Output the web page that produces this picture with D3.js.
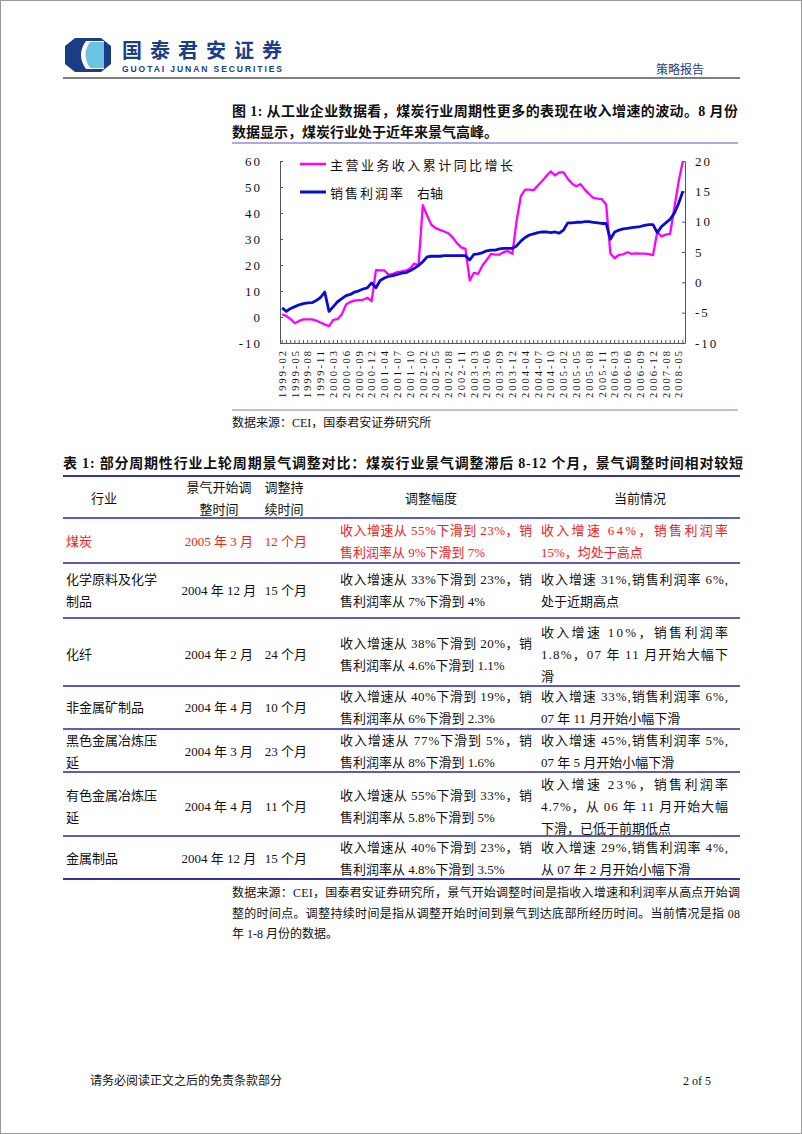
<!DOCTYPE html>
<html><head><meta charset="utf-8">
<script src="https://cdn.jsdelivr.net/npm/d3@7"></script>
<style>body{margin:0;background:#fff}svg{display:block}</style>
</head><body><svg id="page" width="802" height="1134"></svg>
<script>
// ---------------- DATA ----------------
const categories = [
"1999-02","1999-03","1999-04","1999-05","1999-06","1999-07","1999-08","1999-09","1999-10","1999-11","1999-12",
"2000-02","2000-03","2000-04","2000-05","2000-06","2000-07","2000-08","2000-09","2000-10","2000-11","2000-12",
"2001-02","2001-03","2001-04","2001-05","2001-06","2001-07","2001-08","2001-09","2001-10","2001-11","2001-12",
"2002-02","2002-03","2002-04","2002-05","2002-06","2002-07","2002-08","2002-09","2002-10","2002-11","2002-12",
"2003-02","2003-03","2003-04","2003-05","2003-06","2003-07","2003-08","2003-09","2003-10","2003-11","2003-12",
"2004-02","2004-03","2004-04","2004-05","2004-06","2004-07","2004-08","2004-09","2004-10","2004-11","2004-12",
"2005-02","2005-03","2005-04","2005-05","2005-06","2005-07","2005-08","2005-09","2005-10","2005-11","2005-12",
"2006-02","2006-03","2006-04","2006-05","2006-06","2006-07","2006-08","2006-09","2006-10","2006-11","2006-12",
"2007-02","2007-05","2007-08","2007-11",
"2008-02","2008-05","2008-08"];
// 主营业务收入累计同比增长 (left axis, %)
const revenueGrowth = [
1.0,0.4,-0.8,-2.4,-1.5,-0.9,-0.9,-0.9,-1.4,-2.1,-2.9,
-3.5,-1.1,-0.8,1.0,4.8,5.8,6.3,6.5,6.6,7.4,6.1,
18.0,17.9,17.9,16.2,16.6,17.3,17.5,17.8,18.6,20.6,19.8,
43.0,39.0,35.5,34.2,33.5,32.9,32.2,30.6,28.4,26.8,26.2,
14.1,17.0,16.6,19.8,22.0,24.3,24.0,24.0,25.0,25.3,24.3,
37.0,46.5,49.0,49.0,48.8,50.6,52.3,54.2,56.0,54.5,55.6,
55.6,53.2,51.3,50.3,51.1,49.0,47.3,45.8,45.5,45.3,43.3,
24.4,22.6,23.9,24.1,24.9,24.3,24.5,24.4,24.4,24.2,23.8,
32.8,31.0,31.7,32.0,
42.0,52.0,60.0];
// 销售利润率 (right axis, %)
const profitMargin = [
-4.2,-4.8,-4.3,-4.0,-3.7,-3.5,-3.4,-3.35,-3.0,-2.5,-1.6,
-4.8,-4.0,-3.2,-2.7,-2.2,-2.0,-1.6,-1.4,-1.1,-0.9,-0.1,
-0.9,0.3,0.7,1.0,1.1,1.3,1.5,1.6,1.9,2.3,2.8,
3.4,4.2,4.3,4.3,4.3,4.4,4.4,4.4,4.4,4.4,4.4,
3.7,4.6,4.7,4.9,5.2,5.3,5.3,5.5,5.6,5.6,5.6,
6.0,6.8,7.4,7.8,8.0,8.2,8.3,8.3,8.2,8.3,8.1,
8.6,9.8,9.8,9.9,9.9,10.0,10.0,9.9,9.8,9.7,9.7,
7.1,8.3,8.6,8.8,8.9,9.0,9.1,9.2,9.4,9.5,9.5,
8.2,9.2,9.8,10.4,
11.4,13.0,15.0];
const leftTicks = [60,50,40,30,20,10,0,-10];
const rightTicks = [20,15,10,5,0,-5,-10];
const seriesNames = ["主营业务收入累计同比增长","销售利润率","右轴"];

const tableHeader = [["行业"],["景气开始调","整时间"],["调整持","续时间"],["调整幅度"],["当前情况"]];
const industries = [["煤炭"],["化学原料及化学","制品"],["化纤"],["非金属矿制品"],["黑色金属冶炼压","延"],["有色金属冶炼压","延"],["金属制品"]];
const startTimes = ["2005 年 3 月","2004 年 12 月","2004 年 2 月","2004 年 4 月","2004 年 3 月","2004 年 4 月","2004 年 12 月"];
const durations = ["12 个月","15 个月","24 个月","10 个月","23 个月","11 个月","15 个月"];
const adjustments = [
 ["收入增速从 55%下滑到 23%，销","售利润率从 9%下滑到 7%"],
 ["收入增速从 33%下滑到 23%，销","售利润率从 7%下滑到 4%"],
 ["收入增速从 38%下滑到 20%，销","售利润率从 4.6%下滑到 1.1%"],
 ["收入增速从 40%下滑到 19%，销","售利润率从 6%下滑到 2.3%"],
 ["收入增速从 77%下滑到 5%，销","售利润率从 8%下滑到 1.6%"],
 ["收入增速从 55%下滑到 33%，销","售利润率从 5.8%下滑到 5%"],
 ["收入增速从 40%下滑到 23%，销","售利润率从 4.8%下滑到 3.5%"]];
const currentState = [
 ["收入增速 64%，销售利润率","15%，均处于高点"],
 ["收入增速 31%,销售利润率 6%,","处于近期高点"],
 ["收入增速 10%，销售利润率","1.8%，07 年 11 月开始大幅下","滑"],
 ["收入增速 33%,销售利润率 6%,","07 年 11 月开始小幅下滑"],
 ["收入增速 45%,销售利润率 5%,","07 年 5 月开始小幅下滑"],
 ["收入增速 23%，销售利润率","4.7%，从 06 年 11 月开始大幅","下滑，已低于前期低点"],
 ["收入增速 29%,销售利润率 4%,","从 07 年 2 月开始小幅下滑"]];

const figTitle = ["图 1: 从工业企业数据看，煤炭行业周期性更多的表现在收入增速的波动。8 月份","数据显示，煤炭行业处于近年来景气高峰。"];
const figSource = "数据来源：CEI，国泰君安证券研究所";
const tableTitle = "表 1: 部分周期性行业上轮周期景气调整对比：煤炭行业景气调整滞后 8-12 个月，景气调整时间相对较短";
const tableNote = ["数据来源：CEI，国泰君安证券研究所，景气开始调整时间是指收入增速和利润率从高点开始调","整的时间点。调整持续时间是指从调整开始时间到景气到达底部所经历时间。当前情况是指 08","年 1-8 月份的数据。"];

// ---------------- DRAW ----------------
const SERIF = "'Liberation Serif','Noto Sans CJK SC',serif";
const CJK = "'Noto Sans CJK SC',sans-serif";
const NAVY = "#1b3d86";
const svg = d3.select("#page");
svg.append("rect").attr("x",0).attr("y",0).attr("width",802).attr("height",1134).attr("fill","#fff");
svg.append("rect").attr("x",0.5).attr("y",0.5).attr("width",801).attr("height",1133).attr("fill","none").attr("stroke","#999");

function txt(x,y,s,o={}){
  const t=svg.append("text").attr("x",x).attr("y",y).text(s)
    .attr("font-size",o.size||13).attr("font-family",o.font||SERIF)
    .attr("fill",o.color||"#111").attr("dominant-baseline","central");
  if(o.anchor)t.attr("text-anchor",o.anchor);
  if(o.len)t.attr("textLength",o.len).attr("lengthAdjust","spacing");
  if(o.weight)t.attr("font-weight",o.weight);
  if(o.ls)t.attr("letter-spacing",o.ls);
  return t;
}

// header / logo
svg.append("path").attr("d","M75,38 L101,38 L111,46 L111,64 L101,72 L75,72 L65,64 L65,46 Z").attr("fill",NAVY);
svg.append("path").attr("d","M86,41 Q76,55 86,69 L104,69 L104,41 Z").attr("fill","#fff");
svg.append("path").attr("d","M90,42 Q81,55 90,68 L104,68 L104,42 Z").attr("fill","#6cc3e4");
svg.append("path").attr("d","M104,41 L108,46 L108,64 L104,69 Z").attr("fill",NAVY);
txt(122,49,"国泰君安证券",{size:20,font:CJK,weight:"bold",color:NAVY,len:160});
txt(122,68.5,"GUOTAI JUNAN SECURITIES",{size:8.5,font:"'Liberation Sans',sans-serif",weight:"bold",color:NAVY,len:160});
txt(656,68,"策略报告",{size:12,font:CJK,color:NAVY,len:48});
svg.append("line").attr("x1",63).attr("x2",740).attr("y1",78).attr("y2",78).attr("stroke","#808080").attr("stroke-width",2.2);

// figure title
txt(232,111,figTitle[0],{size:14,weight:"bold",len:506});
txt(232,132,figTitle[1],{size:14,weight:"bold"});
svg.append("line").attr("x1",232).attr("x2",738).attr("y1",143).attr("y2",143).attr("stroke","#8f8fd8").attr("stroke-width",1.5);

// chart
const x = d3.scaleBand().domain(categories).range([280,685]);
const yL = d3.scaleLinear().domain([-10,60]).range([343,161]);
const yR = d3.scaleLinear().domain([-10,20]).range([343,161]);
const cx = c => x(c)+x.bandwidth()/2;

const gL = svg.append("g").attr("transform","translate(280,0)")
  .call(d3.axisLeft(yL).tickValues(leftTicks).tickSizeInner(-3).tickSizeOuter(0).tickPadding(18).tickFormat(d=>d<0?"-"+Math.abs(d):d));
const gR = svg.append("g").attr("transform","translate(685,0)")
  .call(d3.axisRight(yR).tickValues(rightTicks).tickSizeInner(-3).tickSizeOuter(0).tickPadding(10).tickFormat(d=>d<0?"-"+Math.abs(d):d));
const gB = svg.append("g").attr("transform","translate(0,343)")
  .call(d3.axisBottom(x).tickSizeInner(-3).tickSizeOuter(0).tickFormat(""));
const gX = svg.append("g").attr("transform","translate(0,343)")
  .call(d3.axisBottom(x).tickValues(categories.filter((c,i)=>i%3===0)).tickSize(0).tickPadding(0));
[gL,gR,gB,gX].forEach(g=>{g.selectAll("path.domain").attr("stroke","#555");g.selectAll(".tick line").attr("stroke","#555");
  g.selectAll("text").attr("font-family",SERIF).attr("fill","#111");});
gX.select("path.domain").remove();
gL.selectAll("text").attr("font-size",13).attr("letter-spacing",2);
gR.selectAll("text").attr("font-size",13).attr("letter-spacing",2);
gX.selectAll(".tick text").attr("font-size",10.5).attr("letter-spacing",2)
  .attr("transform","rotate(-90)").attr("text-anchor","end").attr("dy","0.35em").attr("y",0).attr("x",-6);

const line = (vals, ys) => d3.line().x((d,i)=>cx(categories[i])).y(d=>ys(d))(vals);
svg.append("path").attr("d",line(revenueGrowth,yL)).attr("fill","none").attr("stroke","#ff00ff").attr("stroke-width",2.3).attr("stroke-linejoin","round");
svg.append("path").attr("d",line(profitMargin,yR)).attr("fill","none").attr("stroke","#0a0ad2").attr("stroke-width",2.8).attr("stroke-linejoin","round");

// legend
svg.append("line").attr("x1",300).attr("x2",326).attr("y1",164).attr("y2",164).attr("stroke","#ff00ff").attr("stroke-width",2.5);
txt(330,164,seriesNames[0],{size:13,font:CJK,len:183});
svg.append("line").attr("x1",300).attr("x2",326).attr("y1",192).attr("y2",192).attr("stroke","#0a0ad2").attr("stroke-width",3);
txt(330,192,seriesNames[1],{size:13,font:CJK,len:73});
txt(417,192,seriesNames[2],{size:13,font:CJK,len:26});

svg.append("line").attr("x1",232).attr("x2",738).attr("y1",410).attr("y2",410).attr("stroke","#a8a8e0").attr("stroke-width",1.5);
txt(232,423,figSource,{size:12});

// table
txt(63,463,tableTitle,{size:14,weight:"bold",len:680});
const ruleYs=[476,518,563,618,686,729,772,836,879];
ruleYs.forEach((y,i)=>svg.append("line").attr("x1",63).attr("x2",740).attr("y1",y).attr("y2",y)
  .attr("stroke",(i===0||i===ruleYs.length-1)?"#33339a":"#5c5cba").attr("stroke-width",2));
const colCenters=[104,219,284,431,640];
const LH=22;
tableHeader.forEach((lines,j)=>lines.forEach((s,k)=>txt(colCenters[j],498+(k-(lines.length-1)/2)*LH,s,{size:13,anchor:"middle"})));
const rowCenters=[541,590,654,707,751,806,858];
rowCenters.forEach((cy,r)=>{
  const col=r===0?"#ee2222":"#111";
  const ind=industries[r];
  ind.forEach((s,k)=>txt(66,cy+(k-(ind.length-1)/2)*LH,s,{size:13,color:col}));
  txt(219,cy,startTimes[r],{size:13,color:col,anchor:"middle"});
  txt(286,cy,durations[r],{size:13,color:col,anchor:"middle"});
  const a=adjustments[r];
  a.forEach((s,k)=>txt(340,cy+(k-(a.length-1)/2)*LH,s,{size:13,color:col,len:k===0?192:null}));
  const c=currentState[r];
  c.forEach((s,k)=>txt(541,cy+(k-(c.length-1)/2)*LH,s,{size:13,color:col,len:(k<c.length-1)?187:null}));
});

tableNote.forEach((s,k)=>txt(232,893+k*20.5,s,{size:12,len:k<2?508:null}));

// footer
txt(90,1081,"请务必阅读正文之后的免责条款部分",{size:12});
txt(683,1081,"2 of 5",{size:12});
</script></body></html>
